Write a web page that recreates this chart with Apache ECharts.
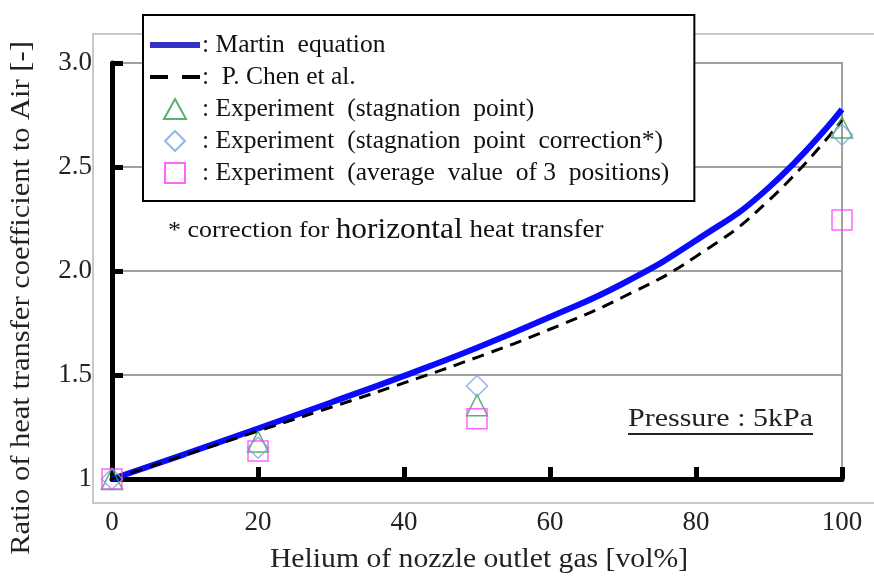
<!DOCTYPE html>
<html><head><meta charset="utf-8">
<script src="https://cdn.jsdelivr.net/npm/echarts@6/dist/echarts.min.js"></script>
<style>html,body{margin:0;padding:0;background:#fff}#c{width:874px;height:577px}</style>
</head><body><div id="c"></div>
<script>
// ---- data ----
const curveX = [0, 10, 20, 30, 40, 50, 60, 70, 80, 90, 100];
const martin = [1.0, 1.12, 1.243, 1.368, 1.496, 1.631, 1.779, 1.94, 2.147, 2.402, 2.777];
const chen   = [1.0, 1.115, 1.23, 1.345, 1.462, 1.585, 1.72, 1.875, 2.07, 2.34, 2.725];
const expX = [0, 20, 50, 100];
const expStag = [1.0, 1.18, 1.355, 2.69];
const expCorr = [1.0, 1.15, 1.447, 2.655];
const expAvg  = [1.0, 1.135, 1.29, 2.245];
const seriesNames = ['Martin equation', 'P. Chen et al.', 'Experiment (stagnation point)',
  'Experiment (stagnation point correction*)', 'Experiment (average value of 3 positions)'];
const legendText = [': Martin  equation', ':  P. Chen et al.', ': Experiment  (stagnation  point)',
  ': Experiment  (stagnation  point  correction*)', ': Experiment  (average  value  of 3  positions)'];
const yTicks = {min: 1, max: 3, step: 0.5};
const xTicks = {min: 0, max: 100, step: 20};

const pair = (xs, ys) => xs.map((x, i) => [x, ys[i]]);
const serif = 'Liberation Serif, Times New Roman, serif';

const legendIcons = [
  'path://M0,0H50V6H0Z',
  'path://M0,0H18V4H0Z M32,0H50V4H32Z',
  'path://M11,0L22,20L0,20Z',
  'path://M10,0L20,10L10,20L0,10Z',
  'path://M0,0H19V19H0Z'
];
const legendColors = ['#3333cc', '#000', null, null, null];

const chart = echarts.init(document.getElementById('c'), null, {renderer: 'canvas'});
chart.setOption({
  animation: false,
  backgroundColor: '#fff',
  grid: {left: 112, right: 32, top: 63, bottom: 98, containLabel: false, outerBoundsMode: 'none',
    show: true, borderColor: '#a0a0a0', borderWidth: 2, backgroundColor: 'transparent'},
  xAxis: {
    type: 'value', min: xTicks.min, max: xTicks.max, interval: xTicks.step,
    axisLine: {show: true, onZero: false, lineStyle: {color: '#000', width: 5}},
    axisTick: {show: true, inside: true, length: 12, lineStyle: {color: '#000', width: 5}},
    axisLabel: {margin: 30, fontFamily: serif, fontSize: 27, color: '#222'},
    splitLine: {show: false}
  },
  yAxis: {
    type: 'value', min: yTicks.min, max: yTicks.max, interval: yTicks.step,
    axisLine: {show: true, onZero: false, lineStyle: {color: '#000', width: 5}},
    axisTick: {show: true, inside: true, length: 11, lineStyle: {color: '#000', width: 5}},
    axisLabel: {margin: 20, fontFamily: serif, fontSize: 27, color: '#222',
      formatter: v => (v === 1 ? '1' : v.toFixed(1))},
    splitLine: {show: true, lineStyle: {color: '#a0a0a0', width: 2}}
  },
  legend: {
    orient: 'vertical', left: 143, top: 15,
    padding: [17, 25, 15, 7], itemGap: 6, itemWidth: 50, itemHeight: 20,
    symbolKeepAspect: true,
    backgroundColor: '#fff', borderColor: '#000', borderWidth: 2, borderRadius: 0,
    textStyle: {fontFamily: serif, fontSize: 25.5, lineHeight: 26, color: '#111', padding: [0, 0, 0, -3]},
    formatter: name => legendText[seriesNames.indexOf(name)],
    data: seriesNames.map((n, i) => {
      const d = {name: n, icon: legendIcons[i]};
      if (legendColors[i]) d.itemStyle = {color: legendColors[i], borderWidth: 0};
      return d;
    })
  },
  series: [
    {name: seriesNames[0], type: 'line', smooth: true, symbol: 'none', z: 3,
      lineStyle: {color: '#0a0aff', width: 6}, itemStyle: {color: '#3333cc'}, data: pair(curveX, martin)},
    {name: seriesNames[1], type: 'line', smooth: true, symbol: 'none', z: 4,
      lineStyle: {color: '#000', width: 3, type: [12, 8]}, itemStyle: {color: '#000'}, data: pair(curveX, chen)},
    {name: seriesNames[2], type: 'scatter', symbol: 'triangle', symbolSize: 21, z: 5,
      itemStyle: {color: 'rgba(0,0,0,0)', borderColor: '#2e9e4a', borderWidth: 1.5}, data: pair(expX, expStag)},
    {name: seriesNames[3], type: 'scatter', symbol: 'diamond', symbolSize: 21, z: 5,
      itemStyle: {color: 'rgba(0,0,0,0)', borderColor: '#7aa3e0', borderWidth: 1.5}, data: pair(expX, expCorr)},
    {name: seriesNames[4], type: 'scatter', symbol: 'rect', symbolSize: 20, z: 5,
      itemStyle: {color: 'rgba(0,0,0,0)', borderColor: '#ff40ff', borderWidth: 1.5}, data: pair(expX, expAvg)}
  ],
  graphic: [
    {type: 'rect', z: -10, silent: true, shape: {x: 93, y: 34, width: 900, height: 469},
      style: {fill: 'none', stroke: '#b8b8b8', lineWidth: 1.5}},
    {type: 'text', x: 22, y: 298, rotation: Math.PI / 2, scaleX: 1.13, silent: true,
      style: {text: 'Ratio of heat transfer coefficient to Air [-]', font: '27px ' + serif, fill: '#222',
        textAlign: 'center', textVerticalAlign: 'middle'}},
    {type: 'text', x: 479, y: 560, scaleX: 1.1, silent: true,
      style: {text: 'Helium of nozzle outlet gas [vol%]', font: '27px ' + serif, fill: '#222',
        textAlign: 'center', textVerticalAlign: 'middle'}},
    {type: 'text', x: 168, y: 245, scaleX: 1.08, silent: true,
      style: {text: '{a|* correction for }{b|horizontal}{c| heat transfer}', textVerticalAlign: 'bottom',
        rich: {a: {font: '24px ' + serif, fill: '#111'}, b: {font: '29px ' + serif, fill: '#111'},
          c: {font: '25px ' + serif, fill: '#111'}}}},
    {type: 'text', x: 628, y: 432, scaleX: 1.2, silent: true,
      style: {text: 'Pressure : 5kPa', font: '25px ' + serif, fill: '#222', textVerticalAlign: 'bottom'}},
    {type: 'line', silent: true, shape: {x1: 628, y1: 434, x2: 813, y2: 434},
      style: {stroke: '#222', lineWidth: 2}}
  ]
});
</script></body></html>
